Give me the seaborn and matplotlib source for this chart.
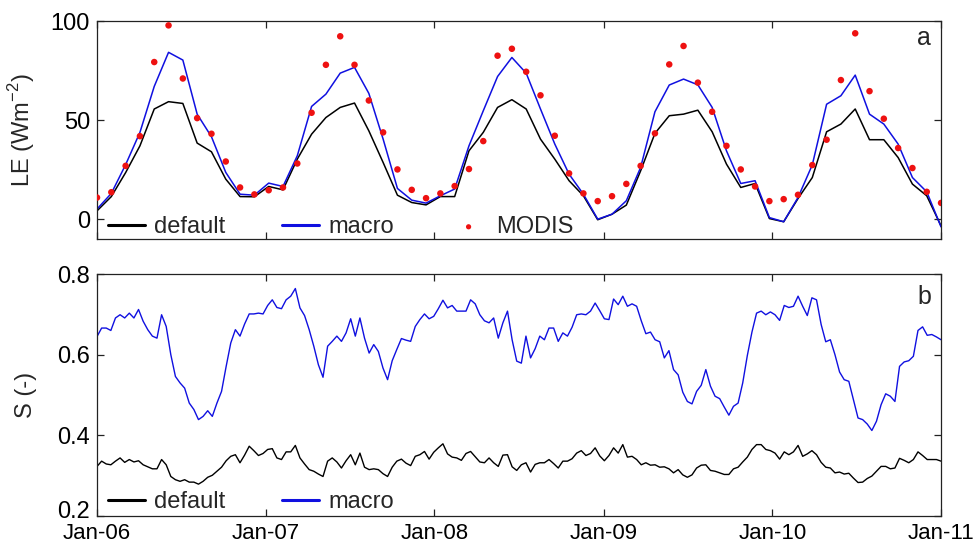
import numpy as np
import pandas as pd
import matplotlib
matplotlib.use("Agg")
import matplotlib.pyplot as plt
import matplotlib.transforms as mtransforms
import seaborn as sns

# ---------------- data ----------------
# Panel a: monthly latent heat flux LE (W m-2), Jan-06 ... Jan-11 (60 values)
le_default = [4.2, 11.4, 23.5, 37.0, 55.6, 59.3, 58.4, 38.4, 34.0, 20.2,
              11.4, 11.3, 16.5, 14.8, 30.3, 42.9, 51.3, 56.4, 58.6, 44.6,
              28.6, 12.1, 8.4, 7.2, 11.4, 11.4, 34.5, 43.8, 56.4, 60.3,
              55.6, 40.4, 30.3, 19.4, 11.8, -0.3, 2.5, 7.1, 24.4, 43.3,
              52.2, 53.0, 55.0, 44.1, 27.8, 16.0, 18.0, 0.3, -1.3, 10.4,
              21.0, 44.1, 48.0, 55.6, 40.1, 40.1, 31.1, 17.7, 11.8, -3.4]
le_macro = [5.1, 13.0, 27.5, 43.8, 67.0, 84.2, 80.3, 53.0, 41.6, 23.6,
            12.6, 12.1, 18.2, 16.5, 32.0, 56.9, 63.1, 73.7, 76.6, 63.5,
            40.4, 15.5, 9.6, 8.1, 11.8, 15.2, 37.0, 54.7, 72.0, 81.6,
            73.7, 55.6, 37.9, 22.7, 12.6, 0.0, 2.5, 9.3, 26.1, 54.2,
            67.7, 70.7, 67.8, 56.4, 34.5, 18.0, 19.4, 0.8, -1.3, 10.9,
            27.4, 58.0, 62.3, 72.7, 53.0, 48.0, 37.9, 21.0, 13.8, -3.9]
le_modis = [10.9, 13.6, 26.9, 41.9, 79.3, 97.8, 71.0, 51.0, 43.1, 29.1,
            16.0, 12.5, 14.6, 16.0, 28.1, 53.7, 77.9, 92.3, 77.9, 59.9,
            43.8, 25.1, 14.8, 10.6, 13.0, 16.7, 25.3, 39.4, 82.5, 86.0,
            74.4, 62.5, 42.1, 23.1, 13.0, 9.1, 11.6, 17.8, 26.9, 43.3,
            78.1, 87.4, 68.9, 54.2, 37.0, 25.1, 16.5, 9.1, 10.1, 12.3,
            27.3, 40.1, 70.2, 93.8, 64.6, 50.7, 35.9, 25.8, 13.8, 8.2]

# Panel b: soil saturation S (-), sampled about every 10 days (184 values)
s_macro = [0.645, 0.666, 0.666, 0.660, 0.691, 0.699, 0.691, 0.703, 0.691, 0.712,
           0.683, 0.662, 0.646, 0.641, 0.699, 0.670, 0.600, 0.546, 0.530, 0.517,
           0.480, 0.464, 0.439, 0.447, 0.461, 0.447, 0.480, 0.509, 0.571, 0.629,
           0.662,
           0.646, 0.676, 0.701, 0.701, 0.703, 0.701, 0.722, 0.736, 0.717, 0.714,
           0.736, 0.745, 0.764, 0.716, 0.697, 0.662, 0.621, 0.575, 0.544, 0.621,
           0.633, 0.646, 0.633, 0.654, 0.689, 0.646, 0.691, 0.641, 0.604, 0.625,
           0.608, 0.567, 0.538, 0.585, 0.613, 0.640, 0.636, 0.633, 0.670, 0.687,
           0.701, 0.689, 0.695, 0.714, 0.735, 0.716, 0.722, 0.708, 0.708, 0.708,
           0.736, 0.726, 0.699, 0.684, 0.679, 0.691, 0.641, 0.679, 0.708, 0.637,
           0.584,
           0.579, 0.646, 0.592, 0.615, 0.646, 0.637, 0.666, 0.666, 0.633, 0.654,
           0.646, 0.668, 0.699, 0.701, 0.699, 0.708, 0.728, 0.709, 0.689, 0.687,
           0.738, 0.724, 0.745, 0.720, 0.726, 0.720, 0.684, 0.652, 0.656, 0.637,
           0.632, 0.592, 0.610, 0.563, 0.550, 0.507, 0.484, 0.478, 0.509, 0.524,
           0.563, 0.522, 0.497, 0.491, 0.470, 0.450, 0.472, 0.480, 0.530, 0.598,
           0.656, 0.703, 0.708, 0.699, 0.706, 0.699, 0.685, 0.722, 0.717, 0.720,
           0.745,
           0.720, 0.697, 0.741, 0.736, 0.675, 0.632, 0.637, 0.600, 0.557, 0.538,
           0.534, 0.489, 0.443, 0.439, 0.428, 0.412, 0.435, 0.476, 0.503, 0.497,
           0.484, 0.571, 0.582, 0.585, 0.596, 0.660, 0.669, 0.648, 0.650, 0.644,
           0.637]
s_default = [0.323, 0.336, 0.329, 0.327, 0.336, 0.344, 0.333, 0.340, 0.334, 0.337,
             0.327, 0.322, 0.317, 0.317, 0.340, 0.327, 0.298, 0.290, 0.286, 0.290,
             0.284, 0.284, 0.279, 0.286, 0.296, 0.301, 0.311, 0.321, 0.337, 0.348,
             0.352,
             0.332, 0.351, 0.373, 0.362, 0.350, 0.355, 0.365, 0.367, 0.344, 0.340,
             0.359, 0.359, 0.375, 0.344, 0.329, 0.315, 0.311, 0.304, 0.298, 0.336,
             0.344, 0.334, 0.319, 0.337, 0.352, 0.327, 0.356, 0.321, 0.315, 0.317,
             0.315, 0.305, 0.298, 0.321, 0.336, 0.341, 0.331, 0.325, 0.348, 0.352,
             0.360, 0.341, 0.358, 0.369, 0.379, 0.354, 0.346, 0.344, 0.338, 0.355,
             0.360, 0.347, 0.334, 0.332, 0.344, 0.332, 0.323, 0.351, 0.352, 0.322,
             0.313,
             0.327, 0.332, 0.309, 0.328, 0.332, 0.332, 0.340, 0.330, 0.319, 0.336,
             0.336, 0.342, 0.356, 0.362, 0.350, 0.355, 0.369, 0.349, 0.337, 0.350,
             0.369, 0.356, 0.377, 0.346, 0.348, 0.340, 0.327, 0.332, 0.326, 0.327,
             0.321, 0.322, 0.317, 0.307, 0.315, 0.302, 0.296, 0.302, 0.319, 0.326,
             0.327, 0.313, 0.311, 0.307, 0.303, 0.303, 0.317, 0.321, 0.334, 0.346,
             0.365, 0.377, 0.377, 0.365, 0.362, 0.356, 0.341, 0.359, 0.352, 0.359,
             0.375,
             0.348, 0.354, 0.362, 0.352, 0.333, 0.321, 0.319, 0.307, 0.309, 0.304,
             0.306, 0.294, 0.283, 0.284, 0.293, 0.299, 0.311, 0.323, 0.323, 0.317,
             0.319, 0.343, 0.338, 0.332, 0.340, 0.359, 0.350, 0.340, 0.340, 0.340,
             0.336]

xtick_labels = ["Jan-06", "Jan-07", "Jan-08", "Jan-09", "Jan-10", "Jan-11"]
le_ticks = [0, 50, 100]
s_ticks = [0.2, 0.4, 0.6, 0.8]

# ---------------- style ----------------
sns.set_style("ticks")
plt.rcParams["font.family"] = ["Liberation Sans", "DejaVu Sans"]
plt.rcParams["axes.edgecolor"] = "#222222"
plt.rcParams["axes.linewidth"] = 0.9
FS = 17

start, end = pd.Timestamp("2006-01-01"), pd.Timestamp("2011-01-01")
year_ticks = pd.date_range(start, end, freq="YS")

fig = plt.figure(figsize=(9.77, 5.49), dpi=100)
ax1 = fig.add_axes([0.0993, 0.5647, 0.8639, 0.3970])
ax2 = fig.add_axes([0.0993, 0.0601, 0.8639, 0.4408])

# ---------------- panel a ----------------
monthly = pd.date_range(start, end, periods=len(le_macro))
df_a = pd.DataFrame({"date": monthly, "default": le_default,
                     "macro": le_macro, "MODIS": le_modis})
sns.lineplot(data=df_a, x="date", y="default", color="black", lw=1.1,
             ax=ax1, label="default")
sns.lineplot(data=df_a, x="date", y="macro", color="#1010e0", lw=1.1,
             ax=ax1, label="macro")
sns.scatterplot(data=df_a, x="date", y="MODIS", color="#ee1111", s=22,
                edgecolor="none", ax=ax1, label="MODIS", zorder=3)
ax1.set_ylim(-10, 100)
ax1.set_yticks(le_ticks)
ax1.set_ylabel(r"LE (Wm$^{\mathregular{-2}}$)", fontsize=FS)
ax1.yaxis.set_label_coords(-0.071, 0.5)
ax1.set_xlabel("")
ax1.text(0.98, 0.922, "a", transform=ax1.transAxes, ha="center",
         va="center", fontsize=FS + 1)
leg1 = ax1.legend(loc="center left", bbox_to_anchor=(0.013, 0.055), ncol=3,
                  frameon=False, fontsize=FS, borderpad=0, borderaxespad=0,
                  handlelength=1.55, handletextpad=0.4, columnspacing=2.4,
                  markerscale=0.8)

# ---------------- panel b ----------------
daily = pd.date_range(start, end, periods=len(s_macro))
df_b = pd.DataFrame({"date": daily, "default": s_default, "macro": s_macro})
sns.lineplot(data=df_b, x="date", y="default", color="black", lw=1.0,
             ax=ax2, label="default")
sns.lineplot(data=df_b, x="date", y="macro", color="#1010e0", lw=1.0,
             ax=ax2, label="macro")
ax2.set_ylim(0.2, 0.8)
ax2.set_yticks(s_ticks)
ax2.set_yticklabels([f"{v:.1f}" for v in s_ticks])
ax2.set_ylabel("S (-)", fontsize=FS)
ax2.yaxis.set_label_coords(-0.071, 0.5)
ax2.set_xlabel("")
ax2.text(0.98, 0.905, "b", transform=ax2.transAxes, ha="center",
         va="center", fontsize=FS + 1)
leg2 = ax2.legend(loc="center left", bbox_to_anchor=(0.013, 0.058), ncol=2,
                  frameon=False, fontsize=FS, borderpad=0, borderaxespad=0,
                  handlelength=1.55, handletextpad=0.4, columnspacing=2.4)

for leg in (leg1, leg2):
    for h in leg.legend_handles:
        if h.__class__.__name__ == "Line2D":
            h.set_linewidth(2.2)

for ax in (ax1, ax2):
    ax.set_xlim(start, end)
    ax.set_xticks(year_ticks)
    ax.tick_params(direction="in", top=True, right=True, length=5,
                   width=0.9, labelsize=FS, colors="#222222",
                   labelcolor="black", pad=5)
    for sp in ax.spines.values():
        sp.set_visible(True)

ax1.set_xticklabels([])
ax2.set_xticklabels(xtick_labels)
ax2.tick_params(axis="x", pad=5, labelsize=16)

# lift the lowest S tick label slightly so it clears the first date label
low = ax2.yaxis.get_major_ticks()[0].label1
low.set_transform(low.get_transform() +
                  mtransforms.ScaledTranslation(0, 4.8 / 72, fig.dpi_scale_trans))

fig.savefig("out.png", dpi=100)
